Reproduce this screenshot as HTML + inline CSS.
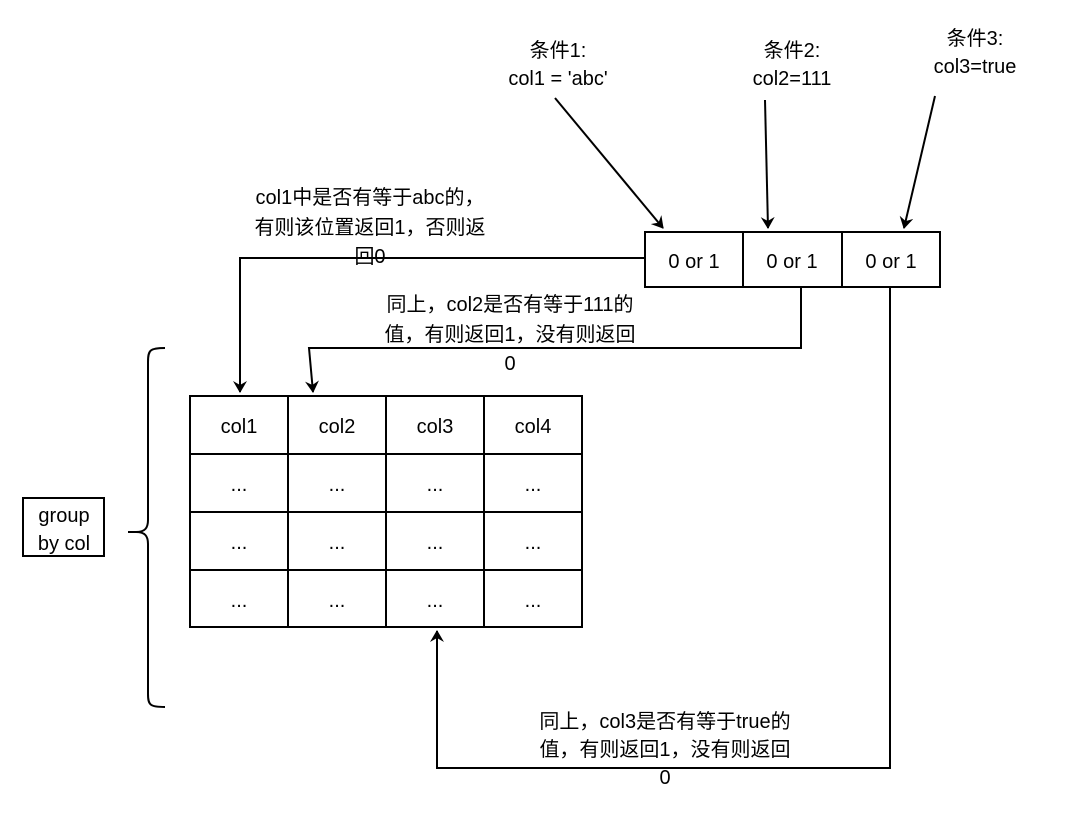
<!DOCTYPE html>
<html><head><meta charset="utf-8"><style>
body{margin:0;background:#fff;}
text{font-family:"Liberation Sans","Noto Sans CJK SC",sans-serif;font-size:20px;fill:#000;}
</style></head><body>
<svg width="1080" height="818" xmlns="http://www.w3.org/2000/svg">
<defs><marker id="a" markerWidth="12" markerHeight="14" refX="11" refY="7" orient="auto" markerUnits="userSpaceOnUse"><path d="M0,0 L12,7 L0,14 L4,7 Z" fill="#000"/></marker></defs>
<g stroke="#000" stroke-width="2" fill="none">
<rect x="190" y="396" width="392" height="231" fill="#fff"/>
<line x1="288" y1="396" x2="288" y2="627"/><line x1="386" y1="396" x2="386" y2="627"/><line x1="484" y1="396" x2="484" y2="627"/>
<line x1="190" y1="454" x2="582" y2="454"/><line x1="190" y1="512" x2="582" y2="512"/><line x1="190" y1="570" x2="582" y2="570"/>
<rect x="645" y="232" width="295" height="55" fill="#fff"/>
<line x1="743" y1="232" x2="743" y2="287"/><line x1="842" y1="232" x2="842" y2="287"/>
<rect x="23" y="498" width="81" height="58"/>
<path d="M165,348 C150,348 148,350 148,362 L148,520 C148,528 145,532 136,532 L128,532 M136,532 C145,532 148,536 148,544 L148,694 C148,705 150,707 165,707"/>
<line x1="555" y1="98" x2="663" y2="228" marker-end="url(#a)"/>
<line x1="765" y1="100" x2="768" y2="228" marker-end="url(#a)"/>
<line x1="935" y1="96" x2="904" y2="228" marker-end="url(#a)"/>
<polyline points="645,258 240,258 240,392" marker-end="url(#a)"/>
<polyline points="801,287 801,348 309,348 313,392" marker-end="url(#a)"/>
<polyline points="890,287 890,768 437,768 437,631" marker-end="url(#a)"/>
</g>
<g text-anchor="middle">
<text x="239" y="433">col1</text><text x="337" y="433">col2</text><text x="435" y="433">col3</text><text x="533" y="433">col4</text>
<g><text x="239" y="491">...</text><text x="337" y="491">...</text><text x="435" y="491">...</text><text x="533" y="491">...</text>
<text x="239" y="549">...</text><text x="337" y="549">...</text><text x="435" y="549">...</text><text x="533" y="549">...</text>
<text x="239" y="607">...</text><text x="337" y="607">...</text><text x="435" y="607">...</text><text x="533" y="607">...</text></g>
<text x="694" y="268">0 or 1</text><text x="792" y="268">0 or 1</text><text x="891" y="268">0 or 1</text>
<text x="64" y="522">group</text><text x="64" y="550">by col</text>
<text x="558" y="57">条件1:</text><text x="558" y="85">col1 = 'abc'</text>
<text x="792" y="57">条件2:</text><text x="792" y="85">col2=111</text>
<text x="975" y="45">条件3:</text><text x="975" y="73">col3=true</text>
<text x="370" y="204">col1中是否有等于abc的，</text><text x="370" y="234">有则该位置返回1，否则返</text><text x="370" y="263">回0</text>
<text x="510" y="311">同上，col2是否有等于111的</text><text x="510" y="341">值，有则返回1，没有则返回</text><text x="510" y="370">0</text>
<text x="665" y="728">同上，col3是否有等于true的</text><text x="665" y="756">值，有则返回1，没有则返回</text><text x="665" y="784">0</text>
</g>
</svg>
</body></html>
